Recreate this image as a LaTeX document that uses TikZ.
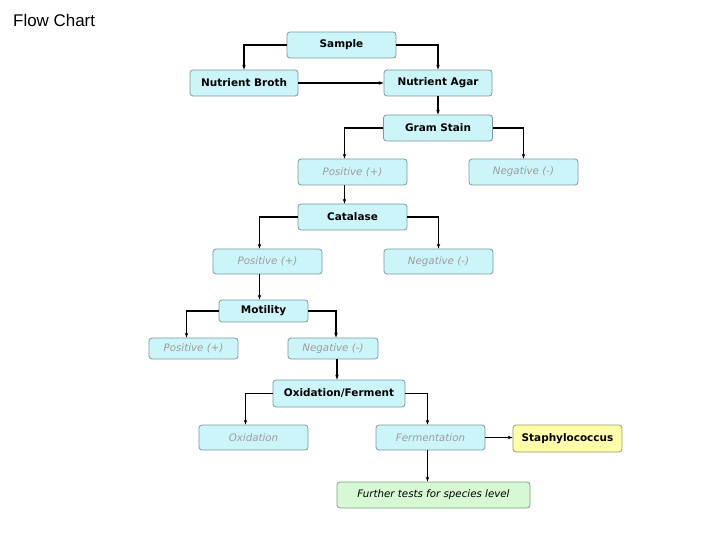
\documentclass[tikz,border=0pt]{standalone}
\usepackage{fontspec}
\setmainfont{DejaVu Sans}
\newfontfamily\titlefont{Liberation Sans}
\usetikzlibrary{arrows.meta,positioning,calc}
\definecolor{cyanfill}{HTML}{CCF5F9}
\definecolor{cyanline}{HTML}{7C9A9E}
\definecolor{resgray}{HTML}{9C9C9C}
\definecolor{yelfill}{HTML}{FFFFAA}
\definecolor{yelline}{HTML}{9A9A60}
\definecolor{grnfill}{HTML}{D6F8D2}
\definecolor{grnline}{HTML}{7F9F80}

\begin{document}
\begin{tikzpicture}[x=1bp,y=-1bp,
    testbox/.style={draw=cyanline,fill=cyanfill,rounded corners=3bp,line width=0.8bp,
      minimum width=109bp,minimum height=26bp,inner sep=0pt,font=\fontsize{10.5}{12}\selectfont\bfseries},
    resbox/.style={testbox,font=\fontsize{10.3}{12}\selectfont\itshape,text=resgray},
    arr/.style={-{Stealth[length=5bp,width=3.5bp]},line width=1.3bp}]
  \useasboundingbox (0,0) rectangle (720,540);
  \node[font=\titlefont\fontsize{17}{19}\selectfont,anchor=west,inner sep=0pt] (title) at (13,20) {Flow Chart};

  % ====== Sample and media ======
  \node[testbox] (sample) at (341.5,45) {Sample};
  \node[testbox,minimum width=108bp] (broth) at (244,83) {Nutrient Broth};
  \node[testbox,minimum width=108bp] (agar) at (438,83) {Nutrient Agar};
  \draw[arr] (sample.west) -| (broth.north);
  \draw[arr] (sample.east) -| (agar.north);
  \draw[arr] (broth.east) -- (agar.west);

  % ====== Gram stain ======
  \node[testbox] (gram) at (438,128) {Gram Stain};
  \node[resbox] (gpos) at (352.5,172) {Positive (+)};
  \node[resbox] (gneg) at (523.5,172) {Negative (-)};
  \draw[arr] (agar.south) -- (agar.south |- gram.north);
  \draw[arr] (gram.west) -| ([xshift=-8bp]gpos.north);
  \draw[arr] (gram.east) -| (gneg.north);

  % ====== Catalase ======
  \node[testbox] (catalase) at (352.5,217) {Catalase};
  \node[resbox,minimum height=25bp] (cpos) at (267.5,261.5) {Positive (+)};
  \node[resbox,minimum height=25bp] (cneg) at (438.5,261.5) {Negative (-)};
  \draw[arr] ([xshift=-8bp]gpos.south) -- ([xshift=-8bp]gpos.south |- catalase.north);
  \draw[arr] (catalase.west) -| ([xshift=-8bp]cpos.north);
  \draw[arr] (catalase.east) -| (cneg.north);

  % ====== Motility ======
  \node[testbox,minimum width=89bp,minimum height=22bp] (motility) at (263.5,311) {Motility};
  \node[resbox,minimum width=89bp,minimum height=21bp] (mpos) at (193.5,348.5) {Positive (+)};
  \node[resbox,minimum width=90bp,minimum height=21bp] (mneg) at (333,348.5) {Negative (-)};
  \draw[arr] ([xshift=-8bp]cpos.south) -- ([xshift=-8bp]cpos.south |- motility.north);
  \draw[arr] (motility.west) -| ([xshift=-7bp]mpos.north);
  \draw[arr] (motility.east) -| ([xshift=3bp]mneg.north);

  % ====== Oxidation / fermentation ======
  \node[testbox,minimum width=132bp,minimum height=27bp] (oxferm) at (339,393.5) {Oxidation/Ferment};
  \node[resbox,minimum height=25bp] (oxid) at (253.5,437.5) {Oxidation};
  \node[resbox,minimum height=25bp] (ferm) at (430.5,437.5) {Fermentation};
  \node[testbox,draw=yelline,fill=yelfill,minimum height=27bp] (staph) at (567.5,438.5) {Staphylococcus};
  \draw[arr] ([xshift=4bp]mneg.south) -- ([xshift=4bp]mneg.south |- oxferm.north);
  \draw[arr] (oxferm.west) -| ([xshift=-8bp]oxid.north);
  \draw[arr] (oxferm.east) -| ([xshift=-3bp]ferm.north);
  \draw[arr] (ferm.east) -- (ferm.east -| staph.west);

  % ====== Species level ======
  \node[resbox,draw=grnline,fill=grnfill,text=black,minimum width=193bp] (further) at (433.5,495) {Further tests for species level};
  \draw[arr] ([xshift=-3bp]ferm.south) -- ([xshift=-3bp]ferm.south |- further.north);
\end{tikzpicture}
\end{document}
